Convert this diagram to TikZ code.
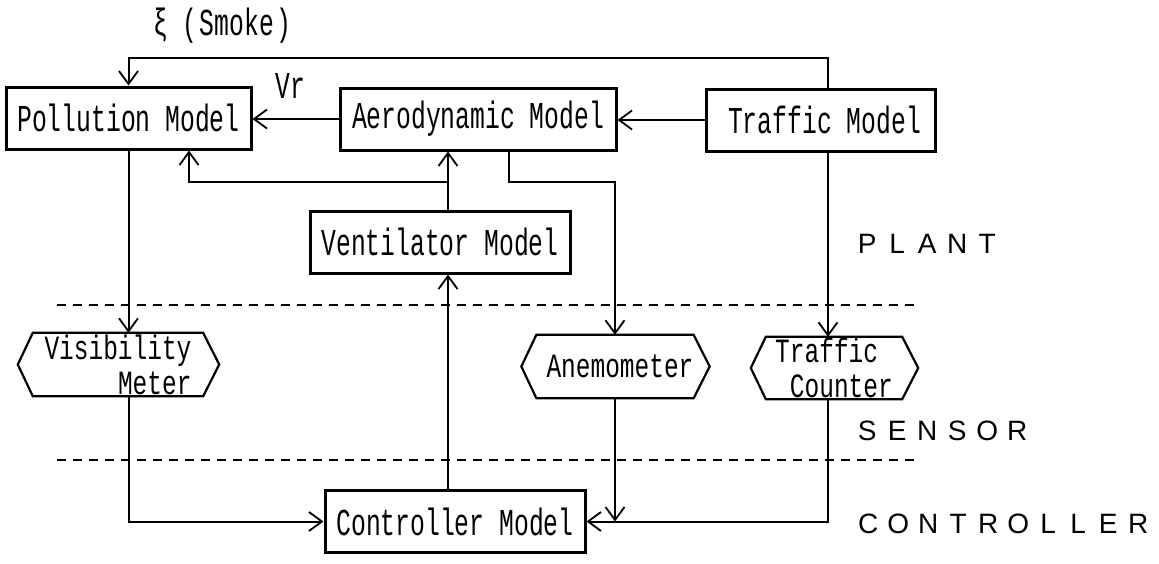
\documentclass[tikz,border=0pt]{standalone}
\usepackage{fontspec}
\newfontfamily\tmono[FakeStretch=0.65]{Liberation Mono}
\newfontfamily\tmonohex[FakeStretch=0.72]{Liberation Mono}
\newfontfamily\tsans{Liberation Sans}
\usetikzlibrary{arrows.meta,calc}
\newcommand\dgmfont{\tmono\fontsize{38}{32}\selectfont}
\newcommand\dgmhexfont{\tmonohex\fontsize{34}{35}\selectfont}
\newcommand\dgmlab{\tsans\fontsize{28}{30}\selectfont}
\newcommand\lsp[1]{\lspaux#1\relax}
\def\lspaux#1{\ifx\relax#1\else\makebox[30pt]{#1}\expandafter\lspaux\fi}
\begin{document}
\begin{tikzpicture}[x=1pt,y=-1pt,
  box/.style={draw,line width=3pt,minimum width=#1,minimum height=62pt,inner sep=0pt,font=\dgmfont},
  hex/.style={minimum width=#1,inner sep=0pt,font=\dgmhexfont},
  hexline/.style={line width=2.2pt,line join=miter},
  conn/.style={line width=2pt},
  thinconn/.style={line width=1.3pt},
  arr/.style={-{Straight Barb[length=13pt,width=19pt,line width=1.8pt]}},
  dline/.style={line width=1.3pt,dash pattern=on 9pt off 7pt},
  lab/.style={anchor=base west,inner sep=0pt,font=\dgmlab},
  txt/.style={anchor=base west,inner sep=0pt,font=\dgmfont}]
\useasboundingbox (0,0) rectangle (1159,563);
% plant boxes
\node[box=245pt] (pol) at (128.5,118) {Pollution Model};
\node[box=276pt] (aero) at (478,119) {Aerodynamic Model};
\node[box=229pt] (traf) at (820.5,120) {\hspace{8pt}Traffic Model};
\node[box=260pt] (vent) at (440,242) {Ventilator Model};
\node[box=260pt] (ctl) at (455,521.5) {Controller Model};
% sensors
\node[hex=170pt,minimum height=63pt,align=right] (vis) at (118,364.5) {Visibility\\Meter};
\node[hex=152pt,minimum height=63pt] (ane) at (615,366.5) {\hspace{10pt}Anemometer};
\node[hex=136pt,minimum height=62pt,align=right] (tc) at (834,368) {Traffic\hphantom{r}\\Counter};
\foreach \n in {vis,ane,tc}{
  \draw[hexline] (\n.north west) -- (\n.north east) -- ([xshift=16pt]\n.east) -- (\n.south east) -- (\n.south west) -- ([xshift=-15pt]\n.west) -- cycle;
}
% labels
\node[txt] (xi) at (153,35) {ξ\hspace{14pt}(\hspace{3pt}Smoke\hspace{3pt})};
\node[txt] (vr) at (275,98) {Vr};
\node[lab] (plant) at (852,253) {\lsp{PLANT}};
\node[lab] (sensor) at (852,440) {\lsp{SENSOR}};
\node[lab] (ctrl) at (853,533) {\lsp{CONTROLLER}};
% layer separators
\draw[dline] (57,305) -- (917,305);
\draw[dline] (57,460) -- (917,460);
% helper coordinates
\coordinate (tl) at (828,58);
\coordinate (vx) at (448,182);
\coordinate (bx) at (189,182);
\coordinate (ax) at (509,182);
\coordinate (ay) at (615,182);
% connectors
\draw[conn,arr] (traf.north -| tl) |- (pol.north |- tl) -- (pol.north);
\draw[thinconn,arr] (aero.west) -- (aero.west -| pol.east);
\draw[thinconn,arr] (traf.west) -- (traf.west -| aero.east);
\draw[conn,arr] (vent.north -| vx) -- (aero.south -| vx);
\draw[conn,arr] (vx) -- (bx) -- (pol.south -| bx);
\draw[conn,arr] (aero.south -| ax) -- (ax) -- (ay) -- (ane.north);
\draw[conn,arr] (traf.south -| tl) -- (tc.north -| tl);
\draw[conn,arr] (pol.south) -- (pol.south |- vis.north);
\draw[conn,arr] (pol.south |- vis.south) |- (ctl.west);
\draw[conn,arr] (ctl.north -| vx) -- (vent.south -| vx);
\draw[conn,arr] (ane.south) -- (ane.south |- ctl.east);
\draw[conn,arr] (tc.south -| tl) |- (ctl.east);
\end{tikzpicture}
\end{document}
